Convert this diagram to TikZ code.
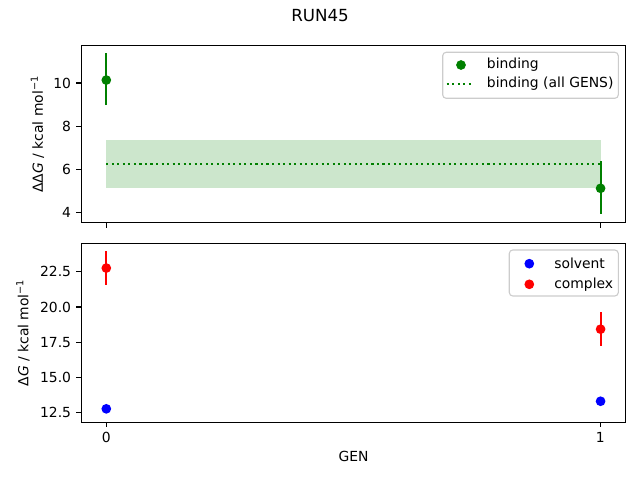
\documentclass[tikz,border=0pt]{standalone}
\usepackage{fontspec}
\setmainfont{DejaVu Sans}
\definecolor{mplgreen}{RGB}{0,128,0}
\definecolor{mplblue}{RGB}{0,0,255}
\definecolor{mplred}{RGB}{255,0,0}
\begin{document}
\begin{tikzpicture}
[x=0.01in,y=-0.01in
,spine/.style={draw=black,line width=0.8bp}
,tk/.style={line width=0.8bp}
,lbl/.style={font=\fontsize{10bp}{12bp}\selectfont,inner sep=0pt}
,ebar/.style={line width=1.5bp}
,pt/.style={circle,fill,inner sep=0pt,minimum size=7bp}
,leg/.style={draw=black!20,fill=white,fill opacity=0.8,rounded corners=2.5bp,line width=0.8bp}
,avg/.style={mplgreen,line width=1.5bp,dash pattern=on 1.5bp off 2.475bp}
]
\useasboundingbox (0,0) rectangle (640,480);
\node[lbl,font=\fontsize{12bp}{14bp}\selectfont] (title) at (320,16) {RUN45};
% upper panel: binding
\begin{scope}[shift={(106.3,298.5)},x=4.94in,y=0.2155in]
\fill[mplgreen,opacity=0.2] (0,5.11) rectangle (1,7.36);
\draw[avg] (0,6.24) -- (1,6.24);
\draw[ebar,mplgreen] (0,8.97) -- (0,11.38);
\draw[ebar,mplgreen] (1,3.92) -- (1,6.38);
\node[pt,mplgreen] (b0) at (0,10.13) {};
\node[pt,mplgreen] (b1) at (1,5.11) {};
\end{scope}
\draw[spine] (81.3,45.3) rectangle (625.7,222.7);
\foreach \v in {4,6,8,10}
  \draw[tk] (81.3,{298.5-21.55*\v}) -- ++(-4.86,0) node[lbl,left=3.5bp] {\v};
\foreach \x in {106.3,600.3}
  \draw[tk] (\x,222.7) -- ++(0,4.86);
\node[lbl,rotate=90] (ylabA) at (37.5,134.2) {ΔΔ\textit{G} / kcal mol\textsuperscript{−1}};
\draw[leg] (442.7,52.3) rectangle (618.3,98.3);
\node[pt,mplgreen] (kb) at (461,65) {};
\node[lbl,anchor=west] (tb) at (486.7,65) {binding};
\coordinate (ka) at (446.7,83.7);
\coordinate (kz) at (474.3,83.7);
\draw[avg] (ka) -- (kz);
\node[lbl,anchor=west] (ta) at (486.7,83.7) {binding (all GENS)};
% lower panel: solvent and complex
\begin{scope}[shift={(106.3,587.8)},x=4.94in,y=0.1404in]
\draw[ebar,mplred] (0,21.57) -- (0,23.99);
\draw[ebar,mplred] (1,17.24) -- (1,19.64);
\node[pt,mplblue] (s0) at (0,12.74) {};
\node[pt,mplblue] (s1) at (1,13.28) {};
\node[pt,mplred] (c0) at (0,22.76) {};
\node[pt,mplred] (c1) at (1,18.41) {};
\end{scope}
\draw[spine] (81.3,243.3) rectangle (625.7,422.3);
\foreach \v/\t in {12.5/12.5,15/15.0,17.5/17.5,20/20.0,22.5/22.5}
  \draw[tk] (81.3,{587.8-14.04*\v}) -- ++(-4.86,0) node[lbl,left=3.5bp] {\t};
\foreach \x/\t in {106.3/0,600.3/1}
  \draw[tk] (\x,422.3) -- ++(0,4.86) node[lbl,below=3.5bp] {\t};
\node[lbl,rotate=90] (ylabB) at (23,332.8) {Δ\textit{G} / kcal mol\textsuperscript{−1}};
\node[lbl] (xlab) at (353.5,456.7) {GEN};
\draw[leg] (509.3,250) rectangle (618.3,296);
\node[pt,mplblue] (ks) at (529.3,263.7) {};
\node[lbl,anchor=west] (ts) at (554,263.7) {solvent};
\node[pt,mplred] (kc) at (529.3,284.3) {};
\node[lbl,anchor=west] (tc) at (554,284.3) {complex};
\end{tikzpicture}
\end{document}
